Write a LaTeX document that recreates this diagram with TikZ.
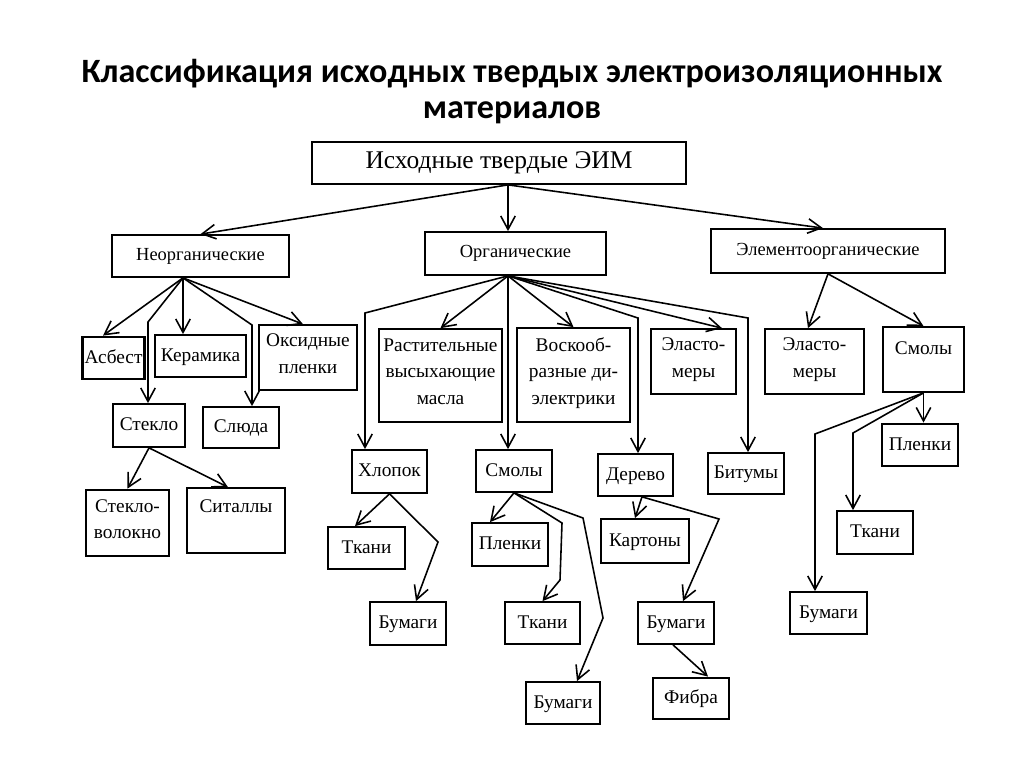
\documentclass[tikz,border=0pt]{standalone}
\usepackage{fontspec}
\setmainfont{Liberation Serif}
\newfontfamily\titlefont{Carlito}
\usetikzlibrary{arrows.meta}

\tikzset{
  box/.style={draw, line width=1pt, inner sep=1pt, align=center,
    font=\fontsize{11}{15}\selectfont, execute at begin node=\strut},
  lvl/.style={box, font=\fontsize{10.5}{12}\selectfont},
  heavybox/.style={box, line width=1.6pt},
  arr/.style={-{Straight Barb[length=2.7mm,width=2.9mm]}, line width=0.9pt},
  titletext/.style={font=\titlefont\bfseries\fontsize{19.4}{22}\selectfont, anchor=base}
}

\begin{document}
\begin{tikzpicture}[x=0.02cm,y=-0.02cm]
\useasboundingbox (0,0) rectangle (1024,767);

\node[titletext] (title1) at (512,83) {Классификация исходных твердых электроизоляционных};
\node[titletext] (title2) at (512,118) {материалов};

\node[box, font=\fontsize{14.5}{16}\selectfont, minimum width=7.48cm, minimum height=0.84cm] (ishod) at (499,163) {Исходные твердые ЭИМ};

\node[lvl, minimum width=3.54cm, minimum height=0.84cm] (neorg) at (200.5,256) {Неорганические};
\node[lvl, minimum width=3.62cm, minimum height=0.86cm] (org) at (515.5,253.5) {Органические};
\node[lvl, minimum width=4.68cm, minimum height=0.88cm] (elem) at (828,251) {Элементоорганические};

% неорганические
\node[heavybox, minimum width=1.10cm, minimum height=0.84cm] (asbest) at (113.5,358) {Асбест};
\node[box, minimum width=1.82cm, minimum height=0.84cm] (keram) at (200.5,356) {Керамика};
\node[box, minimum width=1.96cm, minimum height=1.30cm] (oksid) at (308,357.5) {Оксидные\\пленки};
\node[box, minimum width=1.44cm, minimum height=0.86cm] (steklo) at (149,425.5) {Стекло};
\node[box, minimum width=1.52cm, minimum height=0.82cm] (sluda) at (241,427.5) {Слюда};
\node[heavybox, minimum width=1.66cm, minimum height=1.32cm] (steklovol) at (127.5,523) {Стекло-\\волокно};
\node[box, minimum width=1.96cm, minimum height=1.30cm, text depth=0.7cm] (sitall) at (236,520.5) {Ситаллы};

% органические
\node[box, minimum width=2.46cm, minimum height=1.86cm] (rast) at (440.5,375.5) {Растительные\\высыхающие\\масла};
\node[box, minimum width=2.26cm, minimum height=1.88cm] (vosk) at (573.5,375) {Воскооб-\\разные ди-\\электрики};
\node[box, minimum width=1.70cm, minimum height=1.30cm] (elast1) at (693.5,361.5) {Эласто-\\меры};
\node[box, minimum width=1.50cm, minimum height=0.86cm] (hlopok) at (389.5,471.5) {Хлопок};
\node[box, minimum width=1.52cm, minimum height=0.84cm] (smoly1) at (514,471) {Смолы};
\node[box, minimum width=1.50cm, minimum height=0.84cm] (derevo) at (635.5,475) {Дерево};
\node[box, minimum width=1.52cm, minimum height=0.82cm] (bitum) at (746,473.5) {Битумы};
\node[box, minimum width=1.54cm, minimum height=0.84cm] (tkani1) at (366.5,548) {Ткани};
\node[box, minimum width=1.52cm, minimum height=0.86cm] (bumagi1) at (408,623.5) {Бумаги};
\node[box, minimum width=1.52cm, minimum height=0.86cm] (plenki1) at (510,544.5) {Пленки};
\node[box, minimum width=1.50cm, minimum height=0.84cm] (tkani2) at (542.5,623) {Ткани};
\node[box, minimum width=1.48cm, minimum height=0.84cm] (bumagi2) at (563,703) {Бумаги};
\node[box, minimum width=1.76cm, minimum height=0.88cm] (karton) at (645,541) {Картоны};
\node[box, minimum width=1.52cm, minimum height=0.84cm] (bumagi3) at (676,623) {Бумаги};
\node[heavybox, minimum width=1.52cm, minimum height=0.82cm] (fibra) at (691,698.5) {Фибра};

% элементоорганические
\node[box, minimum width=1.98cm, minimum height=1.30cm] (elast2) at (814.5,361.5) {Эласто-\\меры};
\node[box, minimum width=1.62cm, minimum height=1.30cm, text depth=0.55cm] (smoly2) at (923.5,359.5) {Смолы};
\node[heavybox, minimum width=1.52cm, minimum height=0.84cm] (plenki2) at (920,445) {Пленки};
\node[box, minimum width=1.52cm, minimum height=0.86cm] (tkani3) at (875,532.5) {Ткани};
\node[box, minimum width=1.54cm, minimum height=0.84cm] (bumagi4) at (828.5,613) {Бумаги};

\coordinate (o-ishod) at ([xshift=0.18cm]ishod.south);
\coordinate (o-neorg) at ([xshift=-0.35cm]neorg.south);
\coordinate (o-org) at ([xshift=-0.15cm]org.south);
\coordinate (o-derevo) at ([xshift=0.13cm]derevo.south);

\coordinate (k-steklo) at (148,322);
\coordinate (k-sluda) at (252,325);
\coordinate (k-hlopok) at (365,313);
\coordinate (k-derevo) at (638,318);
\coordinate (k-bitum) at (748,318);
\coordinate (k-bumagi1) at (438,542);
\coordinate (k-tkani2a) at (562,523);
\coordinate (k-tkani2b) at (560,580);
\coordinate (k-bumagi2a) at (583,518);
\coordinate (k-bumagi2b) at (603,618);
\coordinate (k-bumagi3) at (719,519);
\coordinate (k-bumagi4) at (815,434);
\coordinate (k-tkani3) at (853,433);

\draw[arr] (o-ishod) -- (neorg.north);
\draw[arr] (o-ishod) -- (o-ishod |- org.north);
\draw[arr] (o-ishod) -- ([xshift=-0.1cm]elem.north);

\draw[arr] (o-neorg) -- ([xshift=-0.21cm]asbest.north);
\draw[arr] (o-neorg) -- (k-steklo) -- (k-steklo |- steklo.north);
\draw[arr] (o-neorg) -- (o-neorg |- keram.north);
\draw[arr] (o-neorg) -- (k-sluda) -- (k-sluda |- sluda.north);
\draw[arr] (o-neorg) -- ([xshift=-0.1cm]oksid.north);
\draw[arr] (steklo.south) -- (steklovol.north);
\draw[arr] (steklo.south) -- ([xshift=-0.16cm]sitall.north);

\draw[arr] (o-org) -- (k-hlopok) -- (k-hlopok |- hlopok.north);
\draw[arr] (o-org) -- (rast.north);
\draw[arr] (o-org) -- (o-org |- smoly1.north);
\draw[arr] (o-org) -- (vosk.north);
\draw[arr] (o-org) -- (k-derevo) -- (k-derevo |- derevo.north);
\draw[arr] (o-org) -- ([xshift=0.57cm]elast1.north);
\draw[arr] (o-org) -- (k-bitum) -- (k-bitum |- bitum.north);

\draw[arr] (hlopok.south) -- ([xshift=-0.23cm]tkani1.north);
\draw[arr] (hlopok.south) -- (k-bumagi1) -- ([xshift=0.16cm]bumagi1.north);
\draw[arr] (smoly1.south) -- ([xshift=-0.4cm]plenki1.north);
\draw[arr] (smoly1.south) -- (k-tkani2a) -- (k-tkani2b) -- (tkani2.north);
\draw[arr] (smoly1.south) -- (k-bumagi2a) -- (k-bumagi2b) -- ([xshift=0.28cm]bumagi2.north);
\draw[arr] (o-derevo) -- ([xshift=-0.2cm]karton.north);
\draw[arr] (o-derevo) -- (k-bumagi3) -- ([xshift=0.14cm]bumagi3.north);
\draw[arr] ([xshift=-0.06cm]bumagi3.south) -- ([xshift=0.34cm]fibra.north);

\draw[arr] (elem.south) -- ([xshift=-0.13cm]elast2.north);
\draw[arr] (elem.south) -- (smoly2.north);
\draw[arr] (smoly2.south) -- (smoly2.south |- plenki2.north);
\draw[arr] (smoly2.south) -- (k-bumagi4) -- (k-bumagi4 |- bumagi4.north);
\draw[arr] (smoly2.south) -- (k-tkani3) -- (k-tkani3 |- tkani3.north);
\end{tikzpicture}
\end{document}
